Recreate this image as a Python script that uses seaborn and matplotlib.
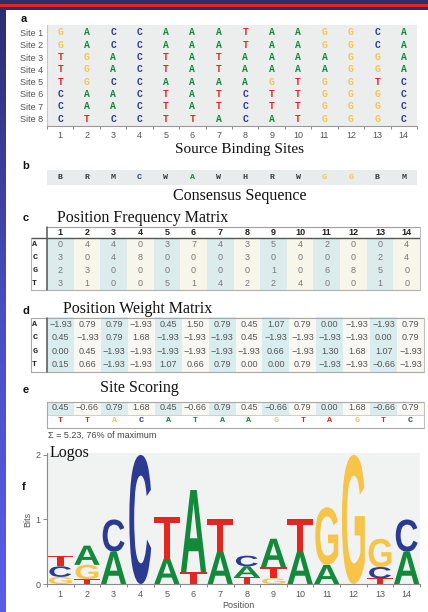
import numpy as np
import matplotlib
matplotlib.use("Agg")
import matplotlib.pyplot as plt
import seaborn as sns
from matplotlib.colors import ListedColormap, LinearSegmentedColormap
from matplotlib.lines import Line2D
from matplotlib.patches import Rectangle, PathPatch
from matplotlib.textpath import TextPath
from matplotlib.font_manager import FontProperties
import matplotlib.transforms as mtransforms

# ---------------- data ----------------
positions = list(range(1, 15))
bases = ["A", "C", "G", "T"]
site_names = [f"Site {i}" for i in range(1, 9)]
sites = [
    "GACCAAATAAGGCA",
    "GACCAAATAAGGCA",
    "TGACTATAAAAGGA",
    "TGACTATAAAAGGA",
    "TGCCAAAAGTGGTC",
    "CAACTATCTTGGGC",
    "CAACTATCTTGGGC",
    "CTCCTTACATGGGC",
]
consensus = list("BRMCWAWHRWGGBM")

pfm_A = [0, 4, 4, 0, 3, 7, 4, 3, 5, 4, 2, 0, 0, 4]
pfm_C = [3, 0, 4, 8, 0, 0, 0, 3, 0, 0, 0, 0, 2, 4]
pfm_G = [2, 3, 0, 0, 0, 0, 0, 0, 1, 0, 6, 8, 5, 0]
pfm_T = [3, 1, 0, 0, 5, 1, 4, 2, 2, 4, 0, 0, 1, 0]

pwm_A = [-1.93, 0.79, 0.79, -1.93, 0.45, 1.50, 0.79, 0.45, 1.07, 0.79, 0.00, -1.93, -1.93, 0.79]
pwm_C = [0.45, -1.93, 0.79, 1.68, -1.93, -1.93, -1.93, 0.45, -1.93, -1.93, -1.93, -1.93, 0.00, 0.79]
pwm_G = [0.00, 0.45, -1.93, -1.93, -1.93, -1.93, -1.93, -1.93, 0.66, -1.93, 1.30, 1.68, 1.07, -1.93]
pwm_T = [0.15, 0.66, -1.93, -1.93, 1.07, 0.66, 0.79, 0.00, 0.00, 0.79, -1.93, -1.93, -0.66, -1.93]

score_values = [0.45, -0.66, 0.79, 1.68, 0.45, -0.66, 0.79, 0.45, -0.66, 0.79, 0.00, 1.68, -0.66, 0.79]
score_letters = list("TTACATAAGTAGTC")
score_letter_keys = list("TTGCAAAAGTTGTC")  # colour key used for each scored letter
pct_of_max = 76

base_colors = {"A": "#13893c", "C": "#2b3b92", "G": "#f6c449", "T": "#e5261f"}
dark_letter = "#3a3a3a"

# ---------------- figure ----------------
W, H = 428, 612
sns.set_style("white")
plt.rcParams["font.family"] = ["Liberation Sans", "DejaVu Sans"]
fig = plt.figure(figsize=(W / 100, H / 100), dpi=100)


def px_axes(x0, y0, x1, y1, **kw):
    return fig.add_axes([x0 / W, 1 - y1 / H, (x1 - x0) / W, (y1 - y0) / H], **kw)


def hline(y, x0, x1, color="#999999", lw=0.8):
    fig.add_artist(Line2D([x0 / W, x1 / W], [1 - y / H, 1 - y / H],
                          transform=fig.transFigure, color=color, lw=lw))


def vline(x, y0, y1, color="#999999", lw=0.8):
    fig.add_artist(Line2D([x / W, x / W], [1 - y0 / H, 1 - y1 / H],
                          transform=fig.transFigure, color=color, lw=lw))


def ftext(x, y, s, **kw):
    fig.text(x / W, 1 - y / H, s, **kw)


def fmt_num(v):
    return f"{v:.2f}".replace("-", "\u2212")


# slide frame
bg = fig.add_axes([0, 0, 1, 1], zorder=-5)
grad = np.linspace(0, 1, 256).reshape(-1, 1)
bg.imshow(grad, aspect="auto", extent=[0, W, H, 0],
          cmap=LinearSegmentedColormap.from_list("frame", ["#2b2e6c", "#4a4cc0", "#5c5ce8"]))
bg.add_patch(Rectangle((0, 4.4), W, 2.4, color="#e8231d", lw=0))
bg.add_patch(Rectangle((6, 9.5), W - 6, H - 9.5, color="white", lw=0))
bg.set_xlim(0, W)
bg.set_ylim(H, 0)
bg.axis("off")

serif = dict(fontfamily="Liberation Serif", fontsize=11.5, color="#111111")
panel_lbl = dict(fontsize=8, fontweight="bold", color="#111111", ha="center", va="center")
mono_bold = dict(fontfamily="Liberation Mono", fontweight="bold")

# ---------------- a: source binding sites ----------------
ftext(24, 19, "a", **panel_lbl)
axa = px_axes(47, 25, 417, 126)
axa.set_facecolor("#eceeee")
for i, seq in enumerate(sites):
    for j, ch in enumerate(seq):
        axa.text(j + 1, i + 1, ch, ha="center", va="center", fontsize=7,
                 color=base_colors[ch], **mono_bold)
axa.set_xlim(0.5, 14.5)
axa.set_ylim(8.6, 0.4)
axa.set_yticks(range(1, 9))
axa.set_yticklabels(site_names, fontsize=6.5, color="#555555")
axa.set_xticks(positions)
axa.set_xticklabels(positions, fontsize=6.5, color="#555555")
axa.set_xticks(np.arange(0.5, 15, 1), minor=True)
axa.tick_params(axis="y", length=0, pad=3)
axa.tick_params(axis="x", which="major", length=0, pad=3.5)
axa.tick_params(axis="x", which="minor", length=2.5, width=0.7, color="#888888", bottom=True)
for s in ["top", "right"]:
    axa.spines[s].set_visible(False)
axa.spines["left"].set_color("#c4c8c8")
axa.spines["bottom"].set_color("#999999")
axa.spines["bottom"].set_linewidth(0.8)
ftext(240, 149, "Source Binding Sites", ha="center", va="center",
      **{**serif, "fontsize": 11})

# ---------------- b: consensus ----------------
ftext(26, 166, "b", **panel_lbl)
axb = px_axes(47, 170, 417, 184.5)
axb.set_facecolor("#e9ecec")
for j, ch in enumerate(consensus):
    axb.text(j + 1, 0.5, ch, ha="center", va="center", fontsize=6,
             color=base_colors.get(ch, dark_letter), **mono_bold)
axb.set_xlim(0.5, 14.5)
axb.set_ylim(0, 1)
axb.set_xticks([])
axb.set_yticks([])
for s in axb.spines.values():
    s.set_visible(False)
ftext(240, 196, "Consensus Sequence", ha="center", va="center", **serif)

# ---------------- c: position frequency matrix ----------------
ftext(26, 218, "c", **panel_lbl)
ftext(57, 218, "Position Frequency Matrix", ha="left", va="center", **serif)
pfm = np.array([pfm_A, pfm_C, pfm_G, pfm_T])
shade4 = np.tile(np.arange(14) % 2, (4, 1))
axc = px_axes(47, 238.5, 420, 289.5)
sns.heatmap(shade4, ax=axc, cmap=ListedColormap(["#dcecec", "#f8f5eb"]), vmin=0, vmax=1,
            cbar=False, annot=pfm, fmt="d", annot_kws={"size": 6.5, "color": "#777777"})
axc.set_xticks([])
axc.set_yticks(np.arange(4) + 0.5)
axc.set_yticklabels(bases, rotation=0, fontsize=6, color="#222222", **mono_bold)
axc.tick_params(axis="y", length=0, pad=7)
for j, p in enumerate(positions):
    axc.text(j + 0.5, -0.5, str(p), ha="center", va="center", fontsize=6.5,
             fontweight="bold", color="#222222", clip_on=False)
hline(227, 47, 420, "#a0a0a0", 0.8)
hline(238.5, 31, 420, "#555555", 1.0)
hline(290, 31, 420, "#b0b0b0", 0.8)
vline(31, 238.5, 290, "#b0b0b0", 0.8)
vline(420, 227, 290, "#c0c0c0", 0.8)
vline(47, 227, 290, "#555555", 1.1)

# ---------------- d: position weight matrix ----------------
ftext(26, 311, "d", **panel_lbl)
ftext(63, 309, "Position Weight Matrix", ha="left", va="center", **serif)
pwm_text = np.array([[fmt_num(v) for v in row] for row in (pwm_A, pwm_C, pwm_G, pwm_T)], dtype=object)
axd = px_axes(47, 317.5, 424, 371.5)
sns.heatmap(shade4, ax=axd, cmap=ListedColormap(["#d9ecee", "#f8f7f1"]), vmin=0, vmax=1,
            cbar=False, annot=pwm_text, fmt="", annot_kws={"size": 6.5, "color": "#555555"})
axd.set_xticks([])
axd.set_yticks(np.arange(4) + 0.5)
axd.set_yticklabels(bases, rotation=0, fontsize=6, color="#222222", **mono_bold)
axd.tick_params(axis="y", length=0, pad=7)
hline(317.5, 31, 424, "#a8a8a8", 0.8)
hline(371.5, 31, 424, "#a8a8a8", 0.8)
vline(31, 317.5, 371.5, "#a8a8a8", 0.8)
vline(424, 317.5, 371.5, "#c0c0c0", 0.8)
vline(47, 317.5, 371.5, "#555555", 1.1)

# ---------------- e: site scoring ----------------
ftext(26, 390, "e", **panel_lbl)
ftext(100, 388, "Site Scoring", ha="left", va="center", **serif)
shade2 = np.vstack([np.arange(14) % 2, np.full(14, 2)])
score_text = np.array([[fmt_num(v) for v in score_values], [""] * 14], dtype=object)
axe = px_axes(47, 401.5, 424, 427.5)
sns.heatmap(shade2, ax=axe, cmap=ListedColormap(["#dbecee", "#f9f8f3", "#ffffff"]), vmin=0, vmax=2,
            cbar=False, annot=score_text, fmt="", annot_kws={"size": 6.5, "color": "#555555"})
for j, (ch, key) in enumerate(zip(score_letters, score_letter_keys)):
    axe.text(j + 0.5, 1.5, ch, ha="center", va="center", fontsize=6,
             color=base_colors[key], **mono_bold)
axe.set_xticks([])
axe.set_yticks([])
hline(401.5, 47, 424, "#a8a8a8", 0.8)
hline(414.5, 47, 424, "#c8c8c8", 0.6)
hline(427.5, 47, 424, "#a8a8a8", 0.8)
vline(47, 401.5, 427.5, "#a8a8a8", 0.8)
vline(424, 401.5, 427.5, "#c0c0c0", 0.8)
total = sum(score_values)
ftext(48, 435, f"\u03a3 = {total:.2f}, {pct_of_max}% of maximum", ha="left", va="center",
      fontsize=6.5, color="#444444")

# ---------------- f: sequence logo ----------------
ftext(24, 487, "f", **panel_lbl)
axf = px_axes(47, 453, 420, 584)
axf.set_facecolor("#f1f2f2")
glyph_font = FontProperties(family="Liberation Sans", weight="bold")
glyph_width = {"A": 0.95, "C": 0.82, "G": 0.86, "T": 0.98}


def draw_glyph(ax, ch, xc, y0, h):
    tp = TextPath((0, 0), ch, size=1, prop=glyph_font)
    bb = tp.get_extents()
    w = glyph_width[ch]
    tr = (mtransforms.Affine2D().translate(-bb.x0, -bb.y0)
          .scale(w / bb.width, h / bb.height).translate(xc - w / 2, y0))
    ax.add_patch(PathPatch(tr.transform_path(tp), fc=base_colors[ch], ec="none", lw=0))


counts = np.array([pfm_A, pfm_C, pfm_G, pfm_T], dtype=float)
n_sites = counts.sum(axis=0)
for j, pos in enumerate(positions):
    p = counts[:, j] / n_sites[j]
    nz = p[p > 0]
    info = 2 + np.sum(nz * np.log2(nz))
    heights = p * info
    order = sorted(range(4), key=lambda k: heights[k])
    y = 0.0
    for k in order:
        if heights[k] > 0:
            draw_glyph(axf, bases[k], pos, y, heights[k])
            y += heights[k]

axf.set_xlim(0.5, 14.5)
axf.set_ylim(0, 2.03)
axf.set_yticks([0, 1, 2])
axf.set_yticklabels(["0", "1", "2"], fontsize=6.5, color="#555555")
axf.set_xticks(positions)
axf.set_xticklabels(positions, fontsize=6.5, color="#555555")
axf.set_xticks(np.arange(0.5, 15, 1), minor=True)
axf.tick_params(axis="y", length=3, width=0.7, color="#888888", pad=1.5, left=True)
axf.tick_params(axis="x", which="major", length=0, pad=4.5)
axf.tick_params(axis="x", which="minor", length=2.5, width=0.7, color="#888888", bottom=True)
for s in ["top", "right"]:
    axf.spines[s].set_visible(False)
for s in ["left", "bottom"]:
    axf.spines[s].set_color("#8a8a8a")
    axf.spines[s].set_linewidth(0.8)
ftext(50, 453, "Logos", ha="left", va="center", **serif)
ftext(28, 519, "Bits", ha="center", va="center", rotation=90, fontsize=6.5, color="#555555")
ftext(238, 605, "Position", ha="center", va="center", fontsize=6.5, color="#555555")

fig.savefig("out.png", dpi=100)
